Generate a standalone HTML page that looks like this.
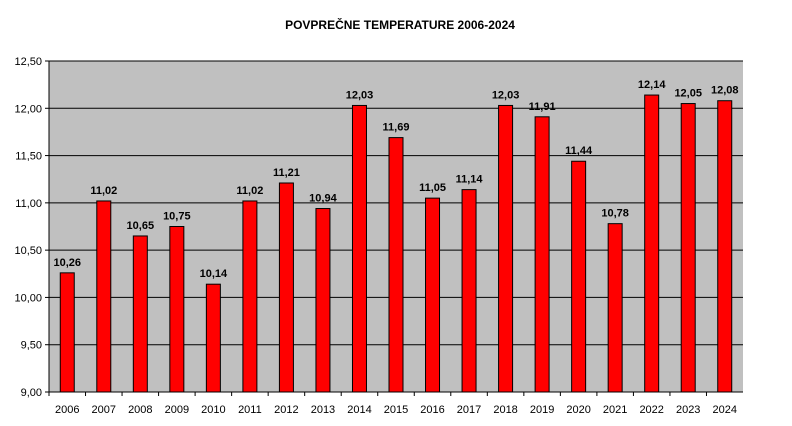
<!DOCTYPE html>
<html><head><meta charset="utf-8"><style>
body{margin:0;background:#fff;}
svg{display:block;font-family:"Liberation Sans",Arial,sans-serif;}
</style></head><body>
<svg id="chart" width="792" height="426">
<text x="400" y="29" text-anchor="middle" font-size="12" font-weight="bold">POVPREČNE TEMPERATURE 2006-2024</text>
<g id="plot"></g>
</svg>
<script>
const categories=["2006","2007","2008","2009","2010","2011","2012","2013","2014","2015","2016","2017","2018","2019","2020","2021","2022","2023","2024"];
const values=[10.26,11.02,10.65,10.75,10.14,11.02,11.21,10.94,12.03,11.69,11.05,11.14,12.03,11.91,11.44,10.78,12.14,12.05,12.08];
const ticks=[9.0,9.5,10.0,10.5,11.0,11.5,12.0,12.5];
const NS="http://www.w3.org/2000/svg";
const g=document.getElementById('plot');
const L=49,R=743,T=61,B=392,yMin=9,yMax=12.5;
const y=v=>B-(v-yMin)/(yMax-yMin)*(B-T);
const step=(R-L)/categories.length;
const x=i=>L+step*(i+0.5);
function el(tag,a){const e=document.createElementNS(NS,tag);for(const k in a)e.setAttribute(k,a[k]);g.appendChild(e);return e;}
const bg=el('rect',{x:L,y:T,width:R-L,height:B-T,fill:'#c0c0c0'});


ticks.forEach(t=>{
  const ln=el('line',{x1:L,x2:R,y1:y(t),y2:y(t),stroke:'#000','stroke-width':1});
  
  
  const tk=el('line',{x1:L-4,x2:L,y1:y(t),y2:y(t),stroke:'#000'});
  
  
  const tx=el('text',{x:L-7,y:y(t)+4,'text-anchor':'end','font-size':11});
  tx.textContent=t.toFixed(2).replace('.',',');
  
  
});
const ax=el('line',{x1:L,x2:L,y1:T,y2:B,stroke:'#000'});


const bw=14;
categories.forEach((c,i)=>{
  const r=el('rect',{x:x(i)-bw/2,y:y(values[i]),width:bw,height:B-y(values[i]),fill:'#ff0000',stroke:'#000','stroke-width':1});
  
  
  const v=el('text',{x:x(i),y:y(values[i])-7,'text-anchor':'middle','font-size':11,'font-weight':'bold'});
  v.textContent=values[i].toFixed(2).replace('.',',');
  
  
  const xt=el('line',{x1:L+step*i,x2:L+step*i,y1:B,y2:B+4,stroke:'#000'});
  
  
  const l=el('text',{x:x(i),y:B+21,'text-anchor':'middle','font-size':11});
  l.textContent=c;
  
  
});
const bx=el('line',{x1:L,x2:R,y1:B,y2:B,stroke:'#000'});


</script>
</body></html>
